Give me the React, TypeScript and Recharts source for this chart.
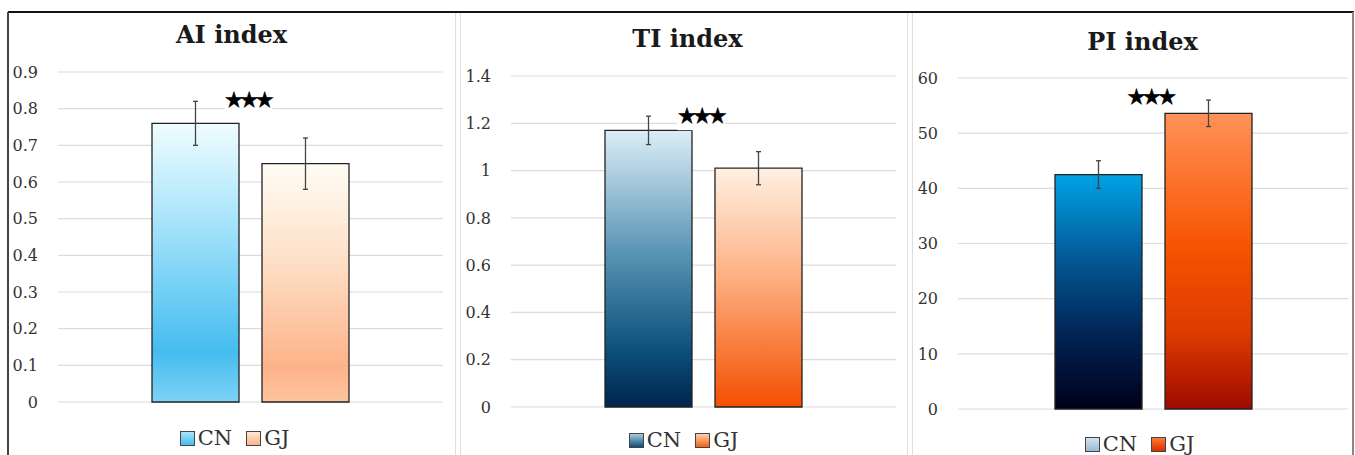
import { BarChart, Bar, XAxis, YAxis, CartesianGrid, ErrorBar, ReferenceDot, Legend } from 'recharts'

const groups = ['CN', 'GJ']

const aiMeans = [0.76, 0.65]
const aiErrors = [0.06, 0.07]
const aiTicks = [0, 0.1, 0.2, 0.3, 0.4, 0.5, 0.6, 0.7, 0.8, 0.9]
const aiStar = 0.823

const tiMeans = [1.17, 1.01]
const tiErrors = [0.06, 0.07]
const tiTicks = [0, 0.2, 0.4, 0.6, 0.8, 1, 1.2, 1.4]
const tiStar = 1.23

const piMeans = [42.5, 53.6]
const piErrors = [2.5, 2.4]
const piTicks = [0, 10, 20, 30, 40, 50, 60]
const piStar = 56.5

const starText = '★★★'

type Stop = [number, string]

interface PanelProps {
  id: string
  title: string
  means: number[]
  errors: number[]
  ticks: number[]
  star: number
  left: number
  width: number
  margin: { top: number; right: number; bottom: number; left: number }
  titleTop: number
  titleShift: number
  legendTop: number
  legendShift: number
  cnStops: Stop[]
  gjStops: Stop[]
  cnSwatch: string
  gjSwatch: string
}

const serif = 'DejaVu Serif'

function StarMark(props: any) {
  const { cx, cy } = props
  return (
    <g>
      <rect x={cx - 26} y={cy - 12} width={48} height={26} fill="#fff" />
      <text
        x={cx - 3}
        y={cy + 7}
        textAnchor="middle"
        fontFamily="DejaVu Sans"
        fontSize={21}
        letterSpacing={-3.5}
        stroke="#000"
        strokeWidth={0.6}
        fill="#000"
      >
        {starText}
      </text>
    </g>
  )
}

function Panel(p: PanelProps) {
  const data = [
    {
      name: 'index',
      [groups[0]]: p.means[0],
      [groups[1]]: p.means[1],
      cnErr: p.errors[0],
      gjErr: p.errors[1]
    }
  ]
  const top = p.ticks[p.ticks.length - 1]

  const renderLegend = () => (
    <div
      style={{
        display: 'flex',
        justifyContent: 'center',
        alignItems: 'center',
        paddingLeft: p.legendShift * 2,
        fontFamily: serif,
        fontSize: 21,
        color: '#333',
        lineHeight: '24px'
      }}
    >
      {groups.map((g, i) => (
        <span key={g} style={{ display: 'flex', alignItems: 'center', marginRight: i === 0 ? 14 : 0 }}>
          <span
            style={{
              display: 'inline-block',
              width: 13,
              height: 13,
              border: '1px solid #444',
              background: i === 0 ? p.cnSwatch : p.gjSwatch,
              marginRight: 3
            }}
          />
          {g}
        </span>
      ))}
    </div>
  )

  return (
    <div style={{ position: 'absolute', left: p.left, top: 0, width: p.width, height: 455 }}>
      <div
        style={{
          position: 'absolute',
          left: p.titleShift * 2,
          top: p.titleTop,
          width: p.width,
          textAlign: 'center',
          fontFamily: serif,
          fontWeight: 'bold',
          fontSize: 24,
          lineHeight: '30px',
          color: '#1a1a1a'
        }}
      >
        {p.title}
      </div>
      <BarChart width={p.width} height={455} data={data} margin={p.margin} barSize={87} barGap={23}>
        <defs>
          <linearGradient id={`${p.id}-cn`} x1="0" y1="0" x2="0" y2="1">
            {p.cnStops.map(([o, c]) => (
              <stop key={o} offset={o} stopColor={c} />
            ))}
          </linearGradient>
          <linearGradient id={`${p.id}-gj`} x1="0" y1="0" x2="0" y2="1">
            {p.gjStops.map(([o, c]) => (
              <stop key={o} offset={o} stopColor={c} />
            ))}
          </linearGradient>
        </defs>
        <CartesianGrid vertical={false} stroke="#dcdcdc" strokeWidth={1.2} />
        <XAxis dataKey="name" hide />
        <YAxis
          domain={[0, top]}
          ticks={p.ticks}
          axisLine={false}
          tickLine={false}
          tickSize={0}
          tickMargin={20}
          width={50}
          interval={0}
          tick={{ fontFamily: serif, fontSize: 16, fill: '#333' }}
        />
        <Legend
          verticalAlign="middle"
          align="center"
          layout="horizontal"
          width={p.width}
          wrapperStyle={{ left: 0, top: p.legendTop - 12 }}
          content={renderLegend}
        />
        <Bar dataKey={groups[0]} fill={`url(#${p.id}-cn)`} stroke="#222" strokeWidth={1.3} isAnimationActive={false}>
          <ErrorBar dataKey="cnErr" width={2.5} stroke="#444" strokeWidth={1.3} direction="y" />
        </Bar>
        <Bar dataKey={groups[1]} fill={`url(#${p.id}-gj)`} stroke="#222" strokeWidth={1.3} isAnimationActive={false}>
          <ErrorBar dataKey="gjErr" width={2.5} stroke="#444" strokeWidth={1.3} direction="y" />
        </Bar>
        <ReferenceDot x="index" y={p.star} r={0} shape={StarMark} />
      </BarChart>
    </div>
  )
}

export default function App() {
  return (
    <div style={{ position: 'absolute', left: 0, top: 0, width: 1355, height: 455, background: '#fff', overflow: 'hidden' }}>
      <Panel
        id="ai"
        title="AI index"
        means={aiMeans}
        errors={aiErrors}
        ticks={aiTicks}
        star={aiStar}
        left={8}
        width={447}
        margin={{ top: 72, right: 12, bottom: 53, left: 0 }}
        titleTop={20}
        titleShift={0}
        legendTop={438}
        legendShift={3}
        cnStops={[[0, '#effdff'], [0.35, '#a8e4fb'], [0.82, '#45bcf0'], [1, '#7fd2f6']]}
        gjStops={[[0, '#fffdf4'], [0.4, '#fee0c8'], [0.85, '#fdb389'], [1, '#fdc3a0']]}
        cnSwatch="linear-gradient(#a8e4fb, #45bcf0)"
        gjSwatch="linear-gradient(#fee6d4, #fdb389)"
      />
      <Panel
        id="ti"
        title="TI index"
        means={tiMeans}
        errors={tiErrors}
        ticks={tiTicks}
        star={tiStar}
        left={460}
        width={447}
        margin={{ top: 76, right: 11, bottom: 48, left: 1 }}
        titleTop={24}
        titleShift={2}
        legendTop={440}
        legendShift={0}
        cnStops={[[0, '#dcedf7'], [0.45, '#5793b4'], [0.8, '#0b4f78'], [1, '#00244f']]}
        gjStops={[[0, '#fff0e2'], [0.45, '#fdb184'], [1, '#f44f00']]}
        cnSwatch="linear-gradient(#a9cbe0, #0b4f78)"
        gjSwatch="linear-gradient(#fdd0b0, #f46010)"
      />
      <Panel
        id="pi"
        title="PI index"
        means={piMeans}
        errors={piErrors}
        ticks={piTicks}
        star={piStar}
        left={912}
        width={441}
        margin={{ top: 78, right: 5, bottom: 46, left: -4 }}
        titleTop={27}
        titleShift={5}
        legendTop={444}
        legendShift={7}
        cnStops={[[0, '#00a3e6'], [0.35, '#035a98'], [0.7, '#01214f'], [1, '#00001a']]}
        gjStops={[[0, '#ff9258'], [0.45, '#f65400'], [0.75, '#dc3a00'], [1, '#9e0a00']]}
        cnSwatch="linear-gradient(#d4e3ef, #9db9d0)"
        gjSwatch="linear-gradient(#ff7a30, #d83000)"
      />
      <div style={{ position: 'absolute', left: 8, top: 11, width: 1346, height: 2, background: '#111' }} />
      <div style={{ position: 'absolute', left: 7, top: 12, width: 2, height: 443, background: '#444' }} />
      <div style={{ position: 'absolute', left: 1352, top: 12, width: 2, height: 443, background: '#888' }} />
      <div style={{ position: 'absolute', left: 455, top: 13, width: 1, height: 442, background: '#dedede' }} />
      <div style={{ position: 'absolute', left: 460, top: 13, width: 1, height: 442, background: '#dedede' }} />
      <div style={{ position: 'absolute', left: 907, top: 13, width: 1, height: 442, background: '#dedede' }} />
      <div style={{ position: 'absolute', left: 912, top: 13, width: 1, height: 442, background: '#dedede' }} />
    </div>
  )
}
